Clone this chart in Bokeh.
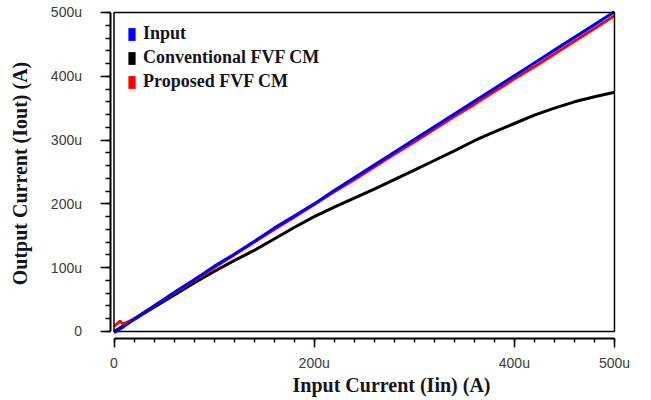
import math
from bokeh.plotting import figure
from bokeh.models import (Range1d, FixedTicker, BoxAnnotation, Legend, LegendItem,
                          Label, LinearAxis)
from bokeh.embed import file_html
from bokeh.resources import INLINE

# ---- data (currents in microamps, "u") ----
input_x = [0, 10, 20, 40, 60, 80, 100, 120, 140, 160, 180, 200, 220, 240, 260, 280,
           300, 320, 340, 360, 380, 400, 420, 440, 460, 480, 500]
input_y = [-2, 8, 19, 40, 61, 81, 102, 121, 141, 162, 181, 200, 221, 241, 261, 281,
           301, 321, 341, 361, 381, 401, 421, 441, 461, 481, 501]

conv_x = [0, 20, 40, 60, 80, 100, 120, 140, 160, 180, 200, 220, 240, 260, 280,
          300, 320, 340, 360, 380, 400, 420, 440, 460, 480, 500]
conv_y = [0, 19, 38, 57, 76, 94, 111, 127, 145, 163, 180, 195, 209, 223, 238,
          253, 268, 283, 299, 313, 326, 339, 350, 360, 368, 375]

prop_x = [0, 3, 6, 9, 14, 20, 40, 60, 80, 100, 120, 140, 160, 180, 200, 220, 240,
          260, 280, 300, 320, 340, 360, 380, 400, 420, 440, 460, 480, 500]
prop_y = [8, 12, 16, 12, 15, 20, 40, 60, 80, 100, 120, 140, 160, 179, 199, 219, 238,
          258, 278, 297, 317, 337, 356, 376, 396, 415, 435, 455, 475, 495]

series_names = ["Input", "Conventional FVF CM", "Proposed FVF CM"]
series_colors = ["#0000ff", "#000000", "#ff0000"]

x_limits = (0, 500)
y_limits = (0, 500)
x_major = [0, 200, 400, 500]
x_labels = ["0", "200u", "400u", "500u"]
x_minor = list(range(0, 501, 20))
y_major = [0, 100, 200, 300, 400, 500]
y_labels = ["0", "100u", "200u", "300u", "400u", "500u"]
y_minor = list(range(0, 501, 20))

x_title = "Input Current (Iin) (A)"
y_title = "Output Current (Iout) (A)"

TITLE_FONT = "Liberation Serif"
TICK_FONT = "Liberation Sans"
TITLE_COLOR = "#141420"
TICK_COLOR = "#3a3a3a"

W, H = 651, 400
p = figure(width=W, height=H, output_backend="svg", toolbar_location=None, title=None,
           x_range=Range1d(-113.4, 537.0), y_range=Range1d(-108.2, 518.8),
           x_axis_location=None, y_axis_location=None, min_border=0)
p.outline_line_color = None
p.grid.visible = False
p.background_fill_color = "white"

# plot box
p.add_layout(BoxAnnotation(left=x_limits[0], right=x_limits[1],
                           bottom=y_limits[0], top=y_limits[1],
                           fill_color=None, line_color="black", line_alpha=1.0,
                           line_width=1.5))

# lines
p.line(conv_x, conv_y, line_color=series_colors[1], line_width=3)
p.line(prop_x, prop_y, line_color=series_colors[2], line_width=3)
p.line(input_x, input_y, line_color=series_colors[0], line_width=3)

# x axis (detached a little below the box)
xa = LinearAxis(fixed_location=-11, bounds=x_limits,
                ticker=FixedTicker(ticks=x_major, minor_ticks=x_minor))
xa.major_label_overrides = {v: t for v, t in zip(x_major, x_labels)}
xa.axis_line_width = 2
xa.major_tick_line_width = 1.5
xa.minor_tick_line_width = 1.5
xa.major_tick_out = 9
xa.major_tick_in = 0
xa.minor_tick_out = 4
xa.minor_tick_in = 0
xa.major_label_standoff = 8
xa.major_label_text_font = TICK_FONT
xa.major_label_text_font_size = "14px"
xa.major_label_text_color = TICK_COLOR
p.add_layout(xa, "below")

# y axis (detached a little left of the box)
ya = LinearAxis(fixed_location=-4, bounds=y_limits,
                ticker=FixedTicker(ticks=y_major, minor_ticks=y_minor))
ya.major_label_overrides = {v: t for v, t in zip(y_major, y_labels)}
ya.axis_line_width = 2
ya.major_tick_line_width = 1.5
ya.minor_tick_line_width = 1.5
ya.major_tick_out = 10
ya.major_tick_in = 0
ya.minor_tick_out = 5
ya.minor_tick_in = 0
ya.major_label_standoff = 18
ya.major_label_text_font = TICK_FONT
ya.major_label_text_font_size = "14px"
ya.major_label_text_color = TICK_COLOR
p.add_layout(ya, "left")

# axis titles
p.add_layout(Label(x=391, y=16, x_units="screen", y_units="screen",
                   text=x_title, text_align="center", text_baseline="middle",
                   text_font=TITLE_FONT, text_font_style="bold",
                   text_font_size="20px", text_color=TITLE_COLOR))
p.add_layout(Label(x=19, y=227, x_units="screen", y_units="screen", angle=math.pi / 2,
                   text=y_title, text_align="center", text_baseline="middle",
                   text_font=TITLE_FONT, text_font_style="bold",
                   text_font_size="20px", text_color=TITLE_COLOR))

# legend with filled rectangles
nan = float("nan")
items = []
for name, color in zip(series_names, series_colors):
    r = p.quad(left=[nan], right=[nan], top=[nan], bottom=[nan],
               fill_color=color, line_color=None)
    items.append(LegendItem(label=name, renderers=[r]))
legend = Legend(items=items, location=(127, 308), padding=0, margin=0,
                glyph_width=9, glyph_height=16, label_height=16, spacing=3,
                label_standoff=7, border_line_color=None, background_fill_alpha=0,
                label_text_font=TITLE_FONT, label_text_font_style="bold",
                label_text_font_size="18px", label_text_color=TITLE_COLOR)
p.add_layout(legend)

open("out.html", "w").write(file_html(p, INLINE))
